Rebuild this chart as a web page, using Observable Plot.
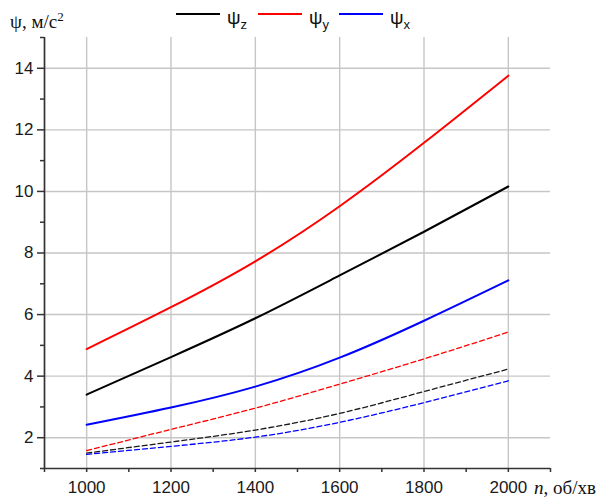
<!DOCTYPE html>
<html>
<head>
<meta charset="utf-8">
<script src="https://cdn.jsdelivr.net/npm/d3@7"></script>
<script src="https://cdn.jsdelivr.net/npm/@observablehq/plot@0.6"></script>
<style>
  html, body { margin: 0; padding: 0; background: #fff; }
  #wrap { position: relative; width: 606px; height: 502px; }
  #wrap > svg { position: absolute; left: 0; top: 0; }
</style>
</head>
<body>
<div id="wrap"></div>
<script>
// ---- data ----
const rpm = [1000, 1200, 1400, 1600, 1800, 2000];
// solid curves
const psiZ = [3.40, 4.62, 5.88, 7.27, 8.69, 10.16];
const psiY = [4.88, 6.24, 7.73, 9.52, 11.58, 13.76];
const psiX = [2.42, 2.98, 3.66, 4.60, 5.80, 7.11];
// dashed curves
const psiZ2 = [1.50, 1.86, 2.25, 2.79, 3.50, 4.23];
const psiY2 = [1.58, 2.27, 2.96, 3.74, 4.56, 5.43];
const psiX2 = [1.46, 1.72, 2.02, 2.50, 3.14, 3.85];
// ticks
const xMajor = [1000, 1200, 1400, 1600, 1800, 2000];
const xMinor = [900, 1100, 1300, 1500, 1700, 1900, 2100];
const yMajor = [2, 4, 6, 8, 10, 12, 14];
const yMinor = [1, 3, 5, 7, 9, 11, 13, 15];
const legendNames = ["z", "y", "x"];
const legendColors = ["#000000", "#ff0000", "#0000ff"];

const rows = (vals) => rpm.map((n, i) => ({n, v: vals[i]}));

const solid = (vals, color) => Plot.line(rows(vals), {x: "n", y: "v", stroke: color, strokeWidth: 2, curve: "natural"});
const dashed = (vals, color) => Plot.line(rows(vals), {x: "n", y: "v", stroke: color, strokeWidth: 1.3, strokeDasharray: "5,3", curve: "natural"});

const chart = Plot.plot({
  width: 606,
  height: 502,
  marginLeft: 44,
  marginRight: 56,
  marginTop: 37,
  marginBottom: 34,
  style: {fontFamily: "Liberation Sans, Arial, sans-serif", fontSize: "17px", background: "transparent", color: "#1a1a1a"},
  x: {domain: [900, 2100]},
  y: {domain: [1, 15]},
  marks: [
    Plot.ruleX(xMajor, {stroke: "#c6c6c6", strokeWidth: 1.4}),
    Plot.ruleY(yMajor, {stroke: "#c6c6c6", strokeWidth: 1.4}),
    dashed(psiY2, "#ff0000"),
    dashed(psiZ2, "#1a1a1a"),
    dashed(psiX2, "#0000ff"),
    solid(psiY, "#ff0000"),
    solid(psiZ, "#000000"),
    solid(psiX, "#0000ff"),
    Plot.axisX({ticks: xMajor, tickSize: 4, tickPadding: 8, fontSize: 17, stroke: "#333", strokeWidth: 1.5, label: null, tickFormat: d => String(d)}),
    Plot.axisX({ticks: xMinor, tickSize: 4, stroke: "#333", strokeWidth: 1.5, text: null, label: null}),
    Plot.axisY({ticks: yMajor, tickSize: 7, tickPadding: 4, fontSize: 17, stroke: "#333", strokeWidth: 1.5, label: null}),
    Plot.axisY({ticks: yMinor, tickSize: 4, stroke: "#333", strokeWidth: 1.5, text: null, label: null}),
    Plot.ruleX([900], {stroke: "#333", strokeWidth: 1.7}),
    Plot.ruleY([1], {stroke: "#333", strokeWidth: 1.7})
  ]
});
const wrap = document.getElementById("wrap");
wrap.appendChild(chart);

// ---- titles and legend (overlay) ----
const NS = "http://www.w3.org/2000/svg";
const ov = document.createElementNS(NS, "svg");
ov.setAttribute("width", 606); ov.setAttribute("height", 502);
ov.setAttribute("style", "position:absolute;left:0;top:0;pointer-events:none");
wrap.appendChild(ov);
function addText(x, y, parts, family, anchor) {
  const t = document.createElementNS(NS, "text");
  t.setAttribute("x", x); t.setAttribute("y", y);
  t.setAttribute("font-family", family);
  t.setAttribute("fill", "#111");
  if (anchor) t.setAttribute("text-anchor", anchor);
  for (const p of parts) {
    const s = document.createElementNS(NS, "tspan");
    s.textContent = p.t;
    s.setAttribute("font-size", p.size);
    if (p.dy) s.setAttribute("dy", p.dy);
    if (p.italic) s.setAttribute("font-style", "italic");
    t.appendChild(s);
  }
  ov.appendChild(t);
  return t;
}
// y title
addText(10, 28, [
  {t: "ψ, м/с", size: 19},
  {t: "2", size: 13, dy: -7}
], "Liberation Serif, Times New Roman, serif");
// x title
addText(534, 494, [
  {t: "n", size: 19, italic: true},
  {t: ", об/хв", size: 19}
], "Liberation Serif, Times New Roman, serif");
// legend
const legX = [176, 258, 339];
legendNames.forEach((nm, i) => {
  const l = document.createElementNS(NS, "line");
  l.setAttribute("x1", legX[i]); l.setAttribute("x2", legX[i] + 44);
  l.setAttribute("y1", 14); l.setAttribute("y2", 14);
  l.setAttribute("stroke", legendColors[i]); l.setAttribute("stroke-width", 2);
  ov.appendChild(l);
  addText(legX[i] + 51, 24, [
    {t: "ψ", size: 19},
    {t: nm, size: 13, dy: 5}
  ], "Liberation Sans, Arial, sans-serif");
});
</script>
</body>
</html>
